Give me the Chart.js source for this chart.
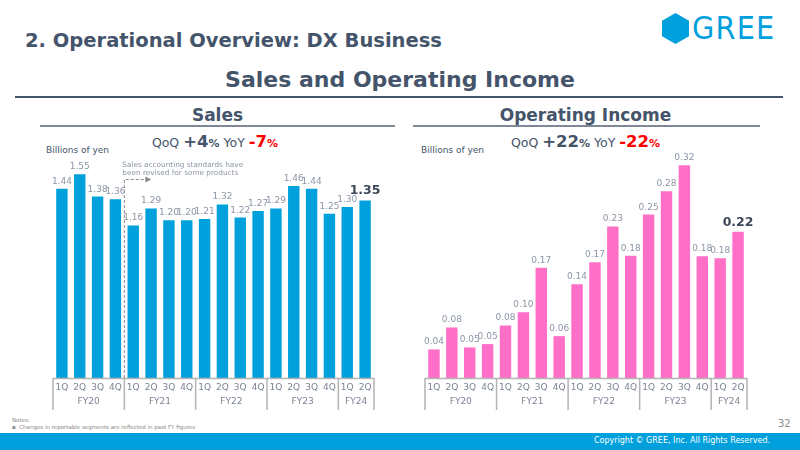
<!DOCTYPE html>
<html>
<head>
<meta charset="utf-8">
<script src="https://cdn.jsdelivr.net/npm/chart.js@4.4.1/dist/chart.umd.min.js"></script>
<style>
  html, body { margin: 0; padding: 0; background: #fff; }
  body { width: 800px; height: 450px; position: relative; overflow: hidden; font-family: "DejaVu Sans", sans-serif; color: #44546a; }
  .abs { position: absolute; white-space: nowrap; }
  #header { left: 25px; top: 29px; font-weight: bold; font-size: 19.5px; }
  #title { left: 0; width: 800px; top: 67px; text-align: center; font-weight: bold; font-size: 22px; }
  #topRule { left: 15px; top: 96px; width: 768px; height: 1.5px; background: #44546a; }
  .panelTitle { top: 105px; text-align: center; font-weight: bold; font-size: 17px; }
  .panelRule { top: 125px; height: 1.5px; background: #7f8896; }
  .growth { top: 132px; text-align: center; font-size: 12.5px; }
  .growth b { font-size: 16.5px; }
  .growth .pct { font-size: 11px; font-weight: bold; }
  .growth .neg { color: #ff0000; }
  .unit { top: 145px; font-size: 9px; color: #44546a; }
  canvas { position: absolute; }
  #footer { left: 0; top: 433px; width: 800px; height: 17px; background: #00a0dc; }
  #copy { right: 30px; top: 436px; font-size: 8px; color: #fff; }
  #notes { left: 12px; top: 417px; font-size: 5.5px; color: #8a8a8a; line-height: 7px; }
  #page { left: 778px; top: 418px; font-size: 10px; color: #8a8a8a; }
</style>
</head>
<body>
<div id="header" class="abs">2. Operational Overview: DX Business</div>
<svg class="abs" style="left:662px;top:13px" width="27" height="31" viewBox="0 0 27 31">
  <polygon points="13.5,0 27,7.75 27,23.25 13.5,31 0,23.25 0,7.75" fill="#00a0dc"/>
</svg>
<div class="abs" style="left:692px;top:9px;font-family:'Liberation Sans Narrow','DejaVu Sans Condensed',sans-serif;font-size:32px;color:#00a0dc;letter-spacing:1.2px;">GREE</div>
<div id="title" class="abs">Sales and Operating Income</div>
<div id="topRule" class="abs"></div>

<div class="abs panelTitle" style="left:40px;width:355px;">Sales</div>
<div class="abs panelRule" style="left:40px;width:355px;"></div>
<div class="abs growth" style="left:40px;width:350px;">QoQ <b>+4</b><span class="pct">%</span> YoY <b class="neg">-7</b><span class="pct neg">%</span></div>
<div class="abs unit" style="left:46px;">Billions of yen</div>

<div class="abs panelTitle" style="left:413px;width:345px;">Operating Income</div>
<div class="abs panelRule" style="left:413px;width:347px;"></div>
<div class="abs growth" style="left:413px;width:345px;">QoQ <b>+22</b><span class="pct">%</span> YoY <b class="neg">-22</b><span class="pct neg">%</span></div>
<div class="abs unit" style="left:421px;">Billions of yen</div>

<canvas id="salesChart" width="360" height="280" style="left:40px;top:130px;"></canvas>
<canvas id="opChart" width="360" height="280" style="left:412px;top:130px;"></canvas>

<div id="notes" class="abs">Notes:<br>&#9642;&nbsp; Changes in reportable segments are reflected in past FY figures</div>
<div id="page" class="abs">32</div>
<div id="footer" class="abs"></div>
<div id="copy" class="abs">Copyright © GREE, Inc. All Rights Reserved.</div>

<script>
// chart data
const quarters = ['1Q', '2Q', '3Q', '4Q', '1Q', '2Q', '3Q', '4Q', '1Q', '2Q', '3Q', '4Q', '1Q', '2Q', '3Q', '4Q', '1Q', '2Q'];
const fiscalYears = ['FY20', 'FY21', 'FY22', 'FY23', 'FY24'];
const quartersPerYear = [4, 4, 4, 4, 2];
const salesValues = [1.44, 1.55, 1.38, 1.36, 1.16, 1.29, 1.20, 1.20, 1.21, 1.32, 1.22, 1.27, 1.29, 1.46, 1.44, 1.25, 1.30, 1.35];
const opIncomeValues = [0.043, 0.076, 0.046, 0.051, 0.079, 0.099, 0.166, 0.063, 0.141, 0.174, 0.228, 0.184, 0.246, 0.281, 0.32, 0.183, 0.18, 0.22];

const FONT = '"DejaVu Sans", sans-serif';
const LABEL_GRAY = '#8c96a6';
const AXIS_GRAY = '#b4b4b4';

// value labels above bars, last one bold
const valueLabels = {
    id: 'valueLabels',
    afterDatasetsDraw(chart) {
        const ctx = chart.ctx;
        const meta = chart.getDatasetMeta(0);
        const values = chart.data.datasets[0].data;
        ctx.save();
        ctx.textAlign = 'center';
        ctx.textBaseline = 'alphabetic';
        meta.data.forEach((bar, i) => {
            const last = i === values.length - 1;
            ctx.font = last ? 'bold 12.5px ' + FONT : '9px ' + FONT;
            ctx.fillStyle = last ? '#3d4859' : LABEL_GRAY;
            ctx.fillText(values[i].toFixed(2), bar.x, bar.y - (last ? 6 : 5));
        });
        ctx.restore();
    }
};

// fiscal year boxes under the quarter labels
const yearGroups = {
    id: 'yearGroups',
    afterDraw(chart) {
        const ctx = chart.ctx;
        const x = chart.scales.x;
        const half = (x.getPixelForValue(1) - x.getPixelForValue(0)) / 2;
        const bottom = chart.chartArea.bottom;
        const left = x.getPixelForValue(0) - half;
        const right = x.getPixelForValue(quarters.length - 1) + half;
        ctx.save();
        ctx.strokeStyle = AXIS_GRAY;
        ctx.lineWidth = 1.5;
        ctx.beginPath();
        ctx.moveTo(left, bottom + 0.5);
        ctx.lineTo(right, bottom + 0.5);
        let start = 0;
        const edges = [left];
        quartersPerYear.forEach(n => {
            start += n;
            edges.push(x.getPixelForValue(start - 1) + half);
        });
        edges.forEach(e => {
            ctx.moveTo(e, bottom);
            ctx.lineTo(e, chart.height);
        });
        ctx.stroke();
        ctx.font = '9px ' + FONT;
        ctx.fillStyle = '#7b8494';
        ctx.textAlign = 'center';
        ctx.textBaseline = 'middle';
        fiscalYears.forEach((fy, i) => {
            ctx.fillText(fy, (edges[i] + edges[i + 1]) / 2, bottom + 24);
        });
        ctx.restore();
    }
};

// dashed marker for the accounting change in sales
const revisionNote = {
    id: 'revisionNote',
    afterDraw(chart) {
        if (chart.canvas.id !== 'salesChart') return;
        const ctx = chart.ctx;
        const x = chart.scales.x;
        const y = chart.scales.y;
        const xPos = (x.getPixelForValue(3) + x.getPixelForValue(4)) / 2;
        const top = y.getPixelForValue(1.51);
        ctx.save();
        ctx.strokeStyle = '#8a8a8a';
        ctx.lineWidth = 1;
        ctx.setLineDash([3, 2]);
        ctx.beginPath();
        ctx.moveTo(xPos, chart.chartArea.bottom);
        ctx.lineTo(xPos, top);
        ctx.lineTo(xPos + 22, top);
        ctx.stroke();
        ctx.setLineDash([]);
        ctx.fillStyle = '#8a8a8a';
        ctx.beginPath();
        ctx.moveTo(xPos + 27, top);
        ctx.lineTo(xPos + 21, top - 3);
        ctx.lineTo(xPos + 21, top + 3);
        ctx.closePath();
        ctx.fill();
        ctx.font = '7.3px ' + FONT;
        ctx.fillStyle = '#8c96a6';
        ctx.textAlign = 'left';
        ctx.textBaseline = 'middle';
        ctx.fillText('Sales accounting standards have', xPos - 2, top - 14);
        ctx.fillText('been revised for some products', xPos - 2, top - 6);
        ctx.restore();
    }
};

function makeConfig(values, color, yMax, padRight) {
    return {
        type: 'bar',
        data: {
            labels: quarters,
            datasets: [{
                data: values,
                backgroundColor: color,
                borderColor: color,
                borderWidth: 0,
                categoryPercentage: 1,
                barPercentage: 0.64
            }]
        },
        options: {
            responsive: false,
            animation: false,
            devicePixelRatio: 1,
            layout: { padding: { left: 13, right: padRight, top: 30, bottom: 0 } },
            plugins: { legend: { display: false }, tooltip: { enabled: false } },
            scales: {
                x: {
                    grid: { display: false, drawTicks: false },
                    border: { display: false },
                    ticks: { font: { family: FONT, size: 9 }, color: '#7b8494', padding: 4, maxRotation: 0, autoSkip: false },
                    afterFit: (scale) => { scale.height = 32; }
                },
                y: { display: false, min: 0, max: yMax }
            }
        },
        plugins: [valueLabels, yearGroups, revisionNote]
    };
}

new Chart(document.getElementById('salesChart'), makeConfig(salesValues, '#00a0dc', 1.658, 26));
new Chart(document.getElementById('opChart'), makeConfig(opIncomeValues, '#ff6fc8', 0.328, 25));
</script>
</body>
</html>
